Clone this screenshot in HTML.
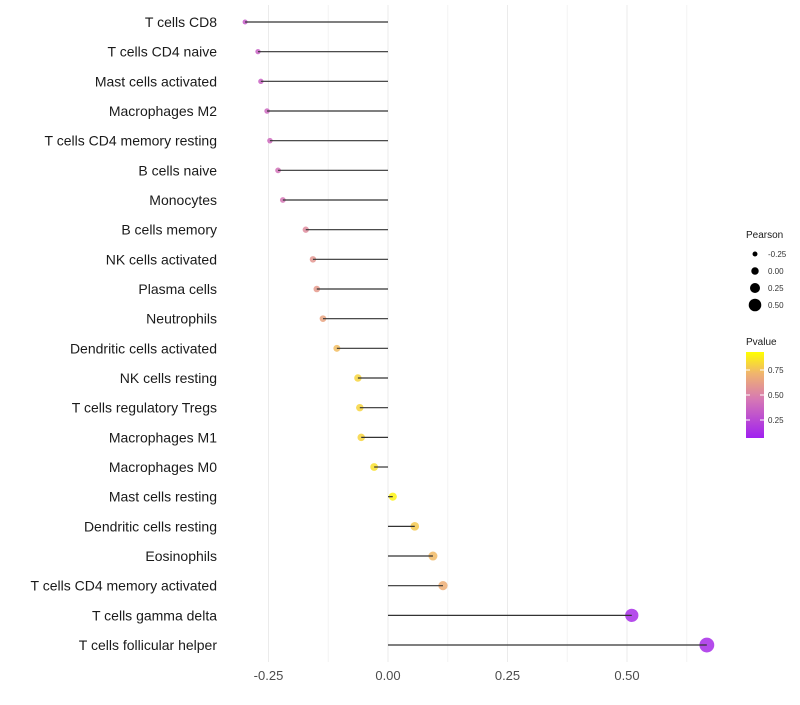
<!DOCTYPE html>
<html><head><meta charset="utf-8"><style>
body{margin:0;background:#fff;font-family:"Liberation Sans",sans-serif}
svg text{font-family:"Liberation Sans",sans-serif}
</style></head><body>
<svg id="c" width="800" height="700"></svg>
<script>
const cells=["T cells CD8","T cells CD4 naive","Mast cells activated","Macrophages M2","T cells CD4 memory resting","B cells naive","Monocytes","B cells memory","NK cells activated","Plasma cells","Neutrophils","Dendritic cells activated","NK cells resting","T cells regulatory  Tregs ","Macrophages M1","Macrophages M0","Mast cells resting","Dendritic cells resting","Eosinophils","T cells CD4 memory activated","T cells gamma delta","T cells follicular helper"];
const pearson=[-0.299,-0.272,-0.266,-0.253,-0.247,-0.230,-0.220,-0.172,-0.157,-0.149,-0.136,-0.107,-0.063,-0.059,-0.056,-0.029,0.010,0.056,0.094,0.115,0.510,0.667];
const pvalue=[0.3,0.33,0.34,0.37,0.38,0.42,0.44,0.55,0.6,0.62,0.67,0.78,0.86,0.86,0.86,0.9,0.96,0.82,0.77,0.72,0.07,0.06];
const xTicks=[-0.25,0,0.25,0.5];
const xTickLabels=["-0.25","0.00","0.25","0.50"];
const legendSizes=[-0.25,0,0.25,0.5];
const legendSizeLabels=["-0.25","0.00","0.25","0.50"];
const pTicks=[0.25,0.5,0.75];
const pTickLabels=["0.25","0.50","0.75"];

const NS="http://www.w3.org/2000/svg";
const svg=document.getElementById('c');
function el(t,a,p){const e=document.createElementNS(NS,t);for(const k in a)e.setAttribute(k,a[k]);(p||svg).appendChild(e);return e;}
const x=v=>388+v*478;
const y=i=>22+i*29.667;
const r=v=>2.5+(v+0.3)*5.1;
const stops=[[0,[160,32,240]],[0.45,[214,120,180]],[0.75,[240,180,110]],[1,[255,255,0]]];
function col(p){p=Math.max(0,Math.min(1,p));for(let i=1;i<stops.length;i++){if(p<=stops[i][0]){const a=stops[i-1],b=stops[i];const t=(p-a[0])/(b[0]-a[0]);const c=a[1].map((v,k)=>Math.round(v+(b[1][k]-v)*t));return `rgb(${c})`;}}return 'rgb(255,255,0)';}

[-0.125,0.125,0.375,0.625].forEach(v=>{const g=el('line',{x1:x(v),x2:x(v),y1:5,y2:662,stroke:'#f4f4f4','stroke-width':1});

});
xTicks.forEach((v,i)=>{const g=el('line',{x1:x(v),x2:x(v),y1:5,y2:662,stroke:'#ebebeb','stroke-width':1});


const t=el('text',{x:x(v),y:680,'text-anchor':'middle','font-size':13,fill:'#4d4d4d'});t.textContent=xTickLabels[i];

});

cells.forEach((c,i)=>{
const t=el('text',{x:217,y:y(i)+5,'text-anchor':'end','font-size':14,fill:'#1a1a1a'});t.textContent=c;


const d=el('circle',{cx:x(pearson[i]),cy:y(i),r:r(pearson[i]),fill:col(pvalue[i]),'fill-opacity':0.85});


const l=el('line',{x1:x(0),x2:x(pearson[i]),y1:y(i),y2:y(i),stroke:'#333','stroke-width':1.2});


});

const lt=el('text',{x:746,y:238,'font-size':10,fill:'#1a1a1a'});lt.textContent='Pearson';


legendSizes.forEach((v,i)=>{const cy=254+i*17;
const d=el('circle',{cx:755,cy:cy,r:r(v)-0.3,fill:'#000'});


const t=el('text',{x:768,y:cy+3,'font-size':8,fill:'#333'});t.textContent=legendSizeLabels[i];

});
const pt=el('text',{x:746,y:345,'font-size':10,fill:'#1a1a1a'});pt.textContent='Pvalue';


const defs=el('defs',{});const lg=el('linearGradient',{id:'g',x1:0,y1:1,x2:0,y2:0},defs);
stops.forEach(s=>el('stop',{offset:s[0],'stop-color':`rgb(${s[1]})`},lg));
const cb=el('rect',{x:746,y:352,width:18,height:86,fill:'url(#g)'});


const cy=p=>438-(p-0.07)/0.86*86;
pTicks.forEach((p,i)=>{el('line',{x1:746,x2:750,y1:cy(p),y2:cy(p),stroke:'#fff'});el('line',{x1:760,x2:764,y1:cy(p),y2:cy(p),stroke:'#fff'});
const t=el('text',{x:768,y:cy(p)+3,'font-size':8,fill:'#333'});t.textContent=pTickLabels[i];

});
</script>
</body></html>
